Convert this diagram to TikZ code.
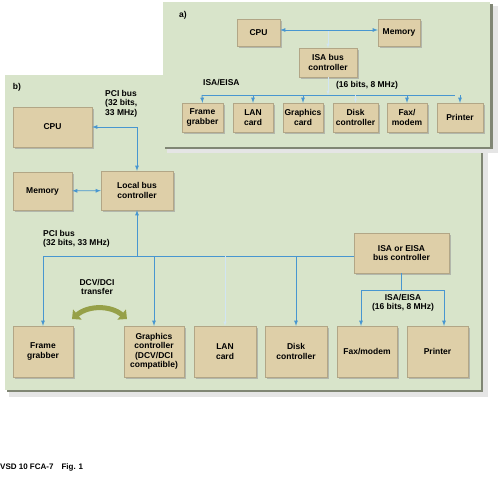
\documentclass[tikz,border=0pt]{standalone}
\usepackage{fontspec}
\setmainfont{Liberation Sans}
\usetikzlibrary{%
  arrows,%
  arrows.meta,%
  shadows%
}
\tikzset{>=latex}
\definecolor{panelbg}{RGB}{216,228,202}
\definecolor{panelsh}{RGB}{128,134,116}
\definecolor{boxfill}{RGB}{222,207,168}
\definecolor{busblue}{RGB}{72,150,208}
\definecolor{arrowolive}{RGB}{150,160,72}
\tikzset{
  card/.style={draw=boxfill!80!black, line width=0.3pt, fill=boxfill,
    align=center, inner sep=1pt, font=\bfseries\fontsize{8.5}{9.5}\selectfont,
    drop shadow={shadow xshift=1.5pt, shadow yshift=-1.5pt, fill=black!40, opacity=0.6}},
  bus/.style={busblue, line width=0.8pt},
  faintbus/.style={busblue!25, line width=0.5pt},
  lbl/.style={font=\bfseries\fontsize{8.5}{9.5}\selectfont, align=center, inner sep=0pt}
}

\begin{document}
\begin{tikzpicture}[x=1pt,y=-1pt]
    \useasboundingbox (0,0) rectangle (500,483);
    % panel b
    \fill[black!10] (9,79) rectangle (488,397);
    \fill[panelsh] (7,77) rectangle (483,392);
    \fill[panelbg] (5,75) rectangle (481,390);
    % panel a
    \fill[black!10] (167,6) rectangle (498,153);
    \fill[panelsh] (165,4) rectangle (493,149);
    \fill[panelbg] (163,2) rectangle (490,147);

    % a) ISA system
    \node[lbl] (taga) at (183,15) {a)};
    \node[card, minimum width=43pt, minimum height=27pt] (cpua) at (258.5,32.5) {CPU};
    \node[card, minimum width=42pt, minimum height=27pt] (mema) at (399,32.5) {Memory};
    \node[card, minimum width=58pt, minimum height=29pt] (isaa) at (328,62.5) {ISA bus\\controller};
    \node[card, minimum width=41pt, minimum height=29pt] (fga) at (202.5,117.5) {Frame\\grabber};
    \node[card, minimum width=40pt, minimum height=29pt] (lana) at (253,117.5) {LAN\\card};
    \node[card, minimum width=40pt, minimum height=29pt] (gca) at (303,117.5) {Graphics\\card};
    \node[card, minimum width=45pt, minimum height=29pt] (dca) at (355.5,117.5) {Disk\\controller};
    \node[card, minimum width=40pt, minimum height=29pt] (faxa) at (407,117.5) {Fax/\\modem};
    \node[card, minimum width=46pt, minimum height=29pt] (pra) at (460,117.5) {Printer};
    \node[lbl, anchor=west] (isalbla) at (203,83) {ISA/EISA};
    \node[lbl] (speeda) at (367,85) {(16 bits, 8 MHz)};
    \coordinate (busal) at (202,95);
    \coordinate (busar) at (455,95);
    \draw[bus,<->] ([yshift=2.5pt]cpua.east) -- ([yshift=2.5pt]mema.west);
    \draw[faintbus,->] (isaa.north |- 0,31) -- (isaa.north);
    \draw[faintbus,->] (isaa.south) -- (isaa.south |- busal);
    \draw[bus] (busal) -- (busar);
    \draw[bus,->] (busal) -- (fga.north);
    \draw[bus,->] (lana.north |- busal) -- (lana.north);
    \draw[bus,->] (gca.north |- busal) -- (gca.north);
    \draw[faintbus,->] (dca.north |- busal) -- (dca.north);
    \draw[bus,->] (faxa.north |- busal) -- (faxa.north);
    \draw[bus,->] (pra.north |- busal) -- (pra.north);

    % b) PCI system
    \node[lbl] (tagb) at (17,87) {b)};
    \node[card, minimum width=79pt, minimum height=40pt] (cpub) at (52.5,127) {CPU};
    \node[card, minimum width=59pt, minimum height=38pt] (memb) at (42.5,191) {Memory};
    \node[card, minimum width=72pt, minimum height=39pt] (lbc) at (137,190.5) {Local bus\\controller};
    \node[card, minimum width=95pt, minimum height=40pt] (isab) at (401.5,253) {ISA or EISA\\bus controller};
    \node[card, minimum width=60pt, minimum height=51pt] (fgb) at (43,351.5) {Frame\\grabber};
    \node[card, minimum width=60pt, minimum height=51pt] (gcb) at (154,351.5) {Graphics\\controller\\(DCV/DCI\\compatible)};
    \node[card, minimum width=62pt, minimum height=51pt] (lanb) at (225,351.5) {LAN\\card};
    \node[card, minimum width=62pt, minimum height=51pt] (dcb) at (296,351.5) {Disk\\controller};
    \node[card, minimum width=60pt, minimum height=51pt] (faxb) at (367,351.5) {Fax/modem};
    \node[card, minimum width=61pt, minimum height=51pt] (prb) at (437.5,351.5) {Printer};
    \node[lbl, align=left, anchor=north west] (pcilbl) at (105,90) {PCI bus\\(32 bits,\\33 MHz)};
    \node[lbl, align=left, anchor=north west] (pcibus) at (43,230) {PCI bus\\(32 bits, 33 MHz)};
    \node[lbl] (isalblb) at (403,303) {ISA/EISA\\(16 bits, 8 MHz)};
    \node[lbl] (dcvlbl) at (97,287) {DCV/DCI\\transfer};
    \coordinate (pcil) at (43,256);
    \coordinate (isal) at (361,290);
    \coordinate (isar) at (444,290);
    \draw[bus,<->] (cpub.east) -| (lbc.north);
    \draw[bus,<->] (memb) -- (lbc);
    \draw[bus] (pcil) -- (pcil -| isab.west);
    \draw[bus,->] (lbc.south |- pcil) -- (lbc.south);
    \draw[bus,->] (pcil) -- (fgb.north);
    \draw[bus,->] (gcb.north |- pcil) -- (gcb.north);
    \draw[faintbus,->] (lanb.north |- pcil) -- (lanb.north);
    \draw[bus,->] (dcb.north |- pcil) -- (dcb.north);
    \draw[bus] (isab.south) -- (isab.south |- isal);
    \draw[bus] (isal) -- (isar);
    \draw[bus,->] (isal) -- (isal |- faxb.north);
    \draw[bus,->] (isar) -- (isar |- prb.north);
    \draw[arrowolive, line width=5pt,
      {Triangle[width=13pt,length=7pt]}-{Triangle[width=13pt,length=7pt]}]
      (72,319) to[bend left=40] (127,319);

    \node[font=\bfseries\fontsize{8}{9}\selectfont, anchor=west, inner sep=0pt] (caption) at (0,467) {VSD 10 FCA-7\quad Fig. 1};
\end{tikzpicture}
\end{document}
